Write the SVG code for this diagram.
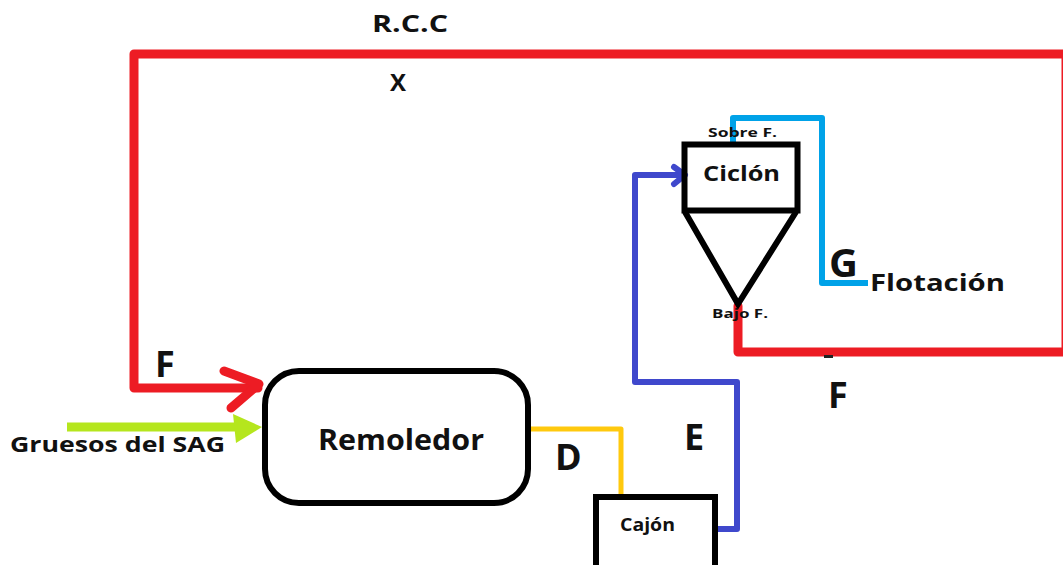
<svg xmlns="http://www.w3.org/2000/svg" width="1063" height="565" viewBox="0 0 1063 565">
<style>
text{font-family:"Open Sans","Noto Sans","DejaVu Sans",sans-serif;font-weight:bold;fill:#111}
.box{fill:none;stroke:#000;stroke-width:6}
.red{fill:none;stroke:#ed1c24;stroke-width:9;stroke-linejoin:round;stroke-linecap:round}
.blue{fill:none;stroke:#3f48cc;stroke-width:6;stroke-linejoin:round;stroke-linecap:round}
.lblue{fill:none;stroke:#00a2e8;stroke-width:6;stroke-linejoin:round}
.yel{fill:none;stroke:#ffc90e;stroke-width:5;stroke-linejoin:round;stroke-linecap:round}
.grn{fill:none;stroke:#b5e61d;stroke-width:9}
</style>
<rect width="1063" height="565" fill="#fff"/>
<g id="connectors">
  <path class="red" d="M1066,54 H134 V388 H258"/>
  <path class="red" d="M224,371 L259,384 L231,408" stroke-width="7"/>
  <path class="red" d="M738,306 V352 H1070"/>
  <path class="red" d="M1066,54 V352" stroke-width="8"/>
  <path class="grn" d="M67,427 H240"/>
  <path d="M233,414 L262,427 L236,443 Z" fill="#b5e61d"/>
  <path class="yel" d="M531,429 H621 V494"/>
  <path class="blue" d="M716,529 H737 V382 H635 V175 H683"/>
  <path class="blue" d="M674,167 L685,175 L674,184"/>
  <path class="lblue" d="M733,142 V118 H822 V283 H868"/>
  <rect x="824" y="355" width="9" height="3" fill="#222"/>
</g>
<g id="remoledor">
  <rect class="box" x="265" y="371" width="263" height="132" rx="34"/>
  <text x="318" y="450" font-size="28" textLength="166" lengthAdjust="spacingAndGlyphs">Remoledor</text>
</g>
<g id="cajon">
  <rect class="box" x="596" y="497" width="119" height="80"/>
  <text x="620" y="531" font-size="17" textLength="55" lengthAdjust="spacingAndGlyphs">Cajón</text>
</g>
<g id="ciclon">
  <rect class="box" x="684.5" y="144.5" width="113" height="66"/>
  <path class="box" d="M685,212 L738,304 L796,212"/>
  <text x="703" y="181" font-size="22" textLength="77" lengthAdjust="spacingAndGlyphs">Ciclón</text>
</g>
<g id="labels">
  <text x="372" y="32" font-size="24" textLength="76" lengthAdjust="spacingAndGlyphs">R.C.C</text>
  <text x="390" y="91" font-size="24">X</text>
  <text x="708" y="137" font-size="12" textLength="69" lengthAdjust="spacingAndGlyphs">Sobre F.</text>
  <text x="712" y="318" font-size="12" textLength="56" lengthAdjust="spacingAndGlyphs">Bajo F.</text>
  <text x="829" y="277" font-size="40">G</text>
  <text x="870" y="291" font-size="24" textLength="135" lengthAdjust="spacingAndGlyphs">Flotación</text>
  <text x="155" y="377" font-size="36">F</text>
  <text x="828" y="408" font-size="36">F</text>
  <text x="10" y="452" font-size="22" textLength="215" lengthAdjust="spacingAndGlyphs">Gruesos del SAG</text>
  <text x="555" y="470" font-size="36">D</text>
  <text x="684" y="450" font-size="36">E</text>
</g>
</svg>
